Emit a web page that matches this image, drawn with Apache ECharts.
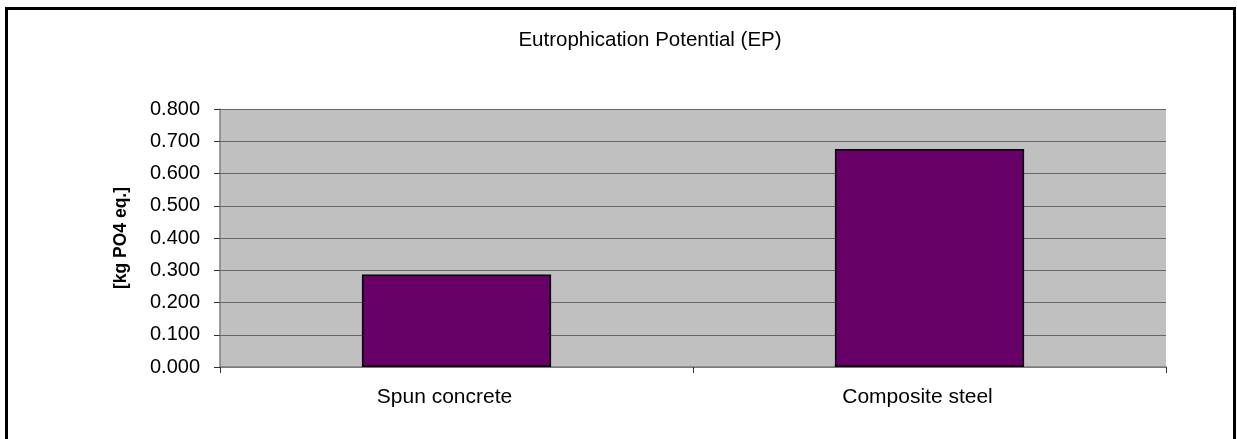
<!DOCTYPE html>
<html>
<head>
<meta charset="utf-8">
<script src="https://cdn.jsdelivr.net/npm/echarts@6/dist/echarts.min.js"></script>
<style>
  html, body { margin: 0; padding: 0; background: #fff; }
  #chart { width: 1237px; height: 439px; }
</style>
</head>
<body>
<div id="chart"></div>
<script>
  // data
  var categories = ['Spun concrete', 'Composite steel'];
  var epValues = [0.287, 0.676];
  var yTicks = { min: 0, max: 0.8, interval: 0.1 };

  var font = '"Liberation Sans", Arial, sans-serif';

  var option = {
    animation: false,
    backgroundColor: '#ffffff',
    title: {
      text: 'Eutrophication Potential (EP)',
      left: 645,
      top: 25,
      textAlign: 'center',
      textStyle: { fontFamily: font, fontSize: 20.5, fontWeight: 'normal', color: '#000' }
    },
    grid: {
      left: 220,
      right: 71,
      top: 109,
      bottom: 72,
      show: true,
      backgroundColor: '#c0c0c0',
      borderWidth: 0
    },
    xAxis: {
      type: 'category',
      data: categories,
      axisLine: { lineStyle: { color: '#808080', width: 1.5 } },
      axisTick: { show: true, length: 6, lineStyle: { color: '#333' } },
      axisLabel: { fontFamily: font, fontSize: 21, color: '#000', margin: 20, padding: [0, 24, 0, 0] }
    },
    yAxis: {
      type: 'value',
      min: yTicks.min,
      max: yTicks.max,
      interval: yTicks.interval,
      name: '[kg PO4 eq.]',
      nameLocation: 'middle',
      nameRotate: 90,
      nameGap: 90,
      nameTextStyle: { fontFamily: font, fontSize: 17.5, fontWeight: 'bold', color: '#000' },
      axisLine: { show: true, lineStyle: { color: '#808080', width: 1.5 } },
      axisTick: { show: true, length: 6, lineStyle: { color: '#333' } },
      axisLabel: {
        fontFamily: font, fontSize: 20, color: '#000', margin: 20,
        formatter: function (v) { return v.toFixed(3); }
      },
      splitLine: { show: true, lineStyle: { color: '#666', width: 1 } }
    },
    series: [{
      type: 'bar',
      data: epValues,
      barWidth: '40%',
      itemStyle: { color: '#660066', borderColor: '#000', borderWidth: 1.5 }
    }],
    graphic: [{
      type: 'polyline',
      silent: true,
      shape: { points: [[6.5, 439], [6.5, 8.5], [1234.5, 8.5], [1234.5, 439]] },
      style: { stroke: '#000', lineWidth: 3, fill: null }
    }]
  };

  echarts.init(document.getElementById('chart')).setOption(option);
</script>
</body>
</html>
